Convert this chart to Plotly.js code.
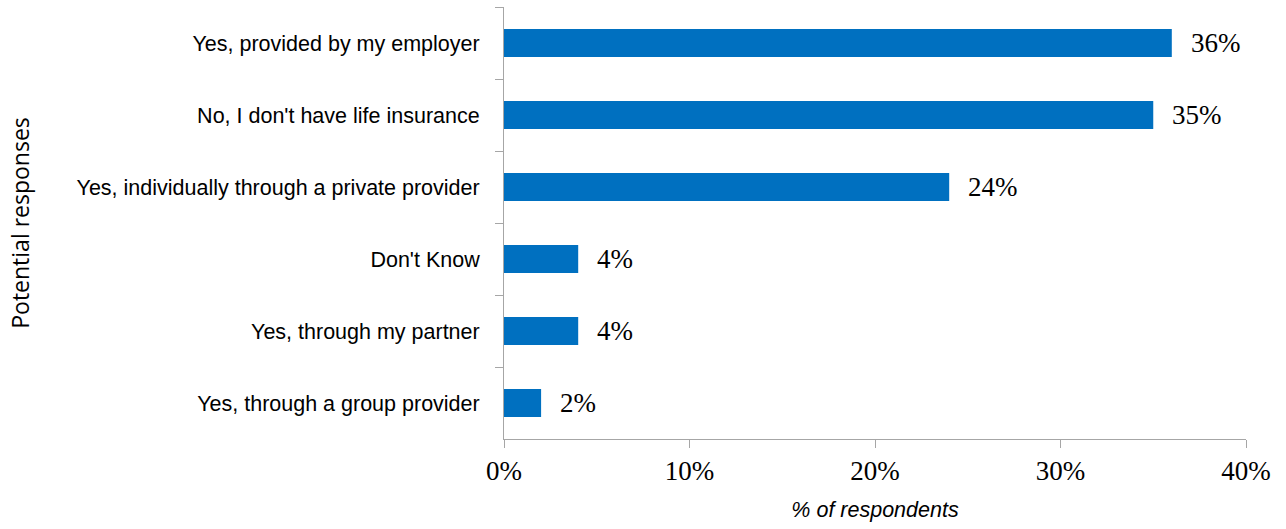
<!DOCTYPE html>
<html>
<head>
<meta charset="utf-8">
<script src="https://cdn.plot.ly/plotly-3.0.1.min.js"></script>
<style>html,body{margin:0;padding:0;background:#fff;}#chart{width:1286px;height:529px;}</style>
</head>
<body>
<div id="chart"></div>
<script>
// Data (top to bottom as shown)
const categories = [
  "Yes, provided by my employer",
  "No, I don't have life insurance",
  "Yes, individually through a private provider",
  "Don't Know",
  "Yes, through my partner",
  "Yes, through a group provider"
];
const values = [36, 35, 24, 4, 4, 2];
const xTickVals = [0, 10, 20, 30, 40];
const xTickText = ["0%", "10%", "20%", "30%", "40%"];

const axisGray = "#a6a6a6";
const serif = "Liberation Serif, serif";
const sans = "Liberation Sans, Arial, sans-serif";

const trace = {
  type: "bar",
  orientation: "h",
  x: values,
  y: categories,
  marker: { color: "#0070C0" },
  hoverinfo: "x+y"
};

const annotations = values.map((v, i) => ({
  x: v, y: categories[i], xref: "x", yref: "y",
  text: v + "%", showarrow: false,
  xanchor: "left", yanchor: "middle", xshift: 17,
  font: { family: serif, size: 27, color: "#000" }
}));

const layout = {
  width: 1286, height: 529,
  margin: { l: 504, r: 40, t: 7, b: 90 },
  paper_bgcolor: "#fff", plot_bgcolor: "#fff",
  bargap: 0.61,
  showlegend: false,
  xaxis: {
    range: [0, 40],
    tickvals: xTickVals, ticktext: xTickText,
    showgrid: false, zeroline: false,
    showline: true, linecolor: axisGray, linewidth: 1,
    ticks: "outside", ticklen: 8, tickcolor: axisGray,
    tickfont: { family: serif, size: 27, color: "#000" },
    title: { text: "<i>% of respondents</i>", font: { family: sans, size: 21.5, color: "#000" }, standoff: 16 },
    fixedrange: true
  },
  yaxis: {
    categoryorder: "array", categoryarray: categories,
    autorange: "reversed",
    showgrid: false, zeroline: false,
    showline: true, linecolor: axisGray, linewidth: 1,
    ticks: "outside", ticklen: 8, tickcolor: axisGray, tickson: "boundaries",
    ticklabelstandoff: 19,
    tickfont: { family: sans, size: 21.5, color: "#000" },
    title: { text: "Potential responses", font: { family: "Open Sans, sans-serif", size: 23, color: "#000" }, standoff: 40 },
    fixedrange: true
  },
  annotations: annotations
};

Plotly.newPlot("chart", [trace], layout, { displayModeBar: false, staticPlot: true });
</script>
</body>
</html>
